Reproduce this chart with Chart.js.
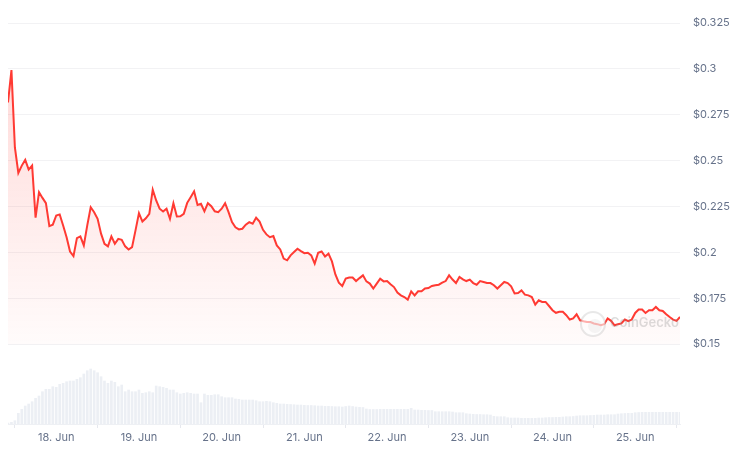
<!DOCTYPE html>
<html>
<head>
<meta charset="utf-8">
<script src="https://cdn.jsdelivr.net/npm/chart.js@4.4.1/dist/chart.umd.min.js"></script>
<style>
  html, body { margin: 0; padding: 0; background: #fff; }
  #wrap { width: 731px; height: 456px; position: relative; }
</style>
</head>
<body>
<div id="wrap"><canvas id="priceChart"></canvas></div>
<script>
// Hourly data, first point is 17 Jun ~10:00 (hour -14 relative to 18 Jun 00:00)
const startHour = -14;

const prices = [
  0.2817, 0.2993, 0.2572, 0.2433, 0.2473, 0.2504, 0.2451, 0.2473, 0.2189, 0.2328,
  0.2297, 0.2268, 0.2143, 0.2151, 0.2201, 0.2207, 0.2147, 0.2083, 0.2005, 0.1980,
  0.2078, 0.2087, 0.2038, 0.2147, 0.2246, 0.2219, 0.2183, 0.2102, 0.2047, 0.2033,
  0.2087, 0.2047, 0.2074, 0.2069, 0.2033, 0.2016, 0.2029, 0.2120, 0.2214, 0.2168,
  0.2186, 0.2210, 0.2342, 0.2283, 0.2238, 0.2223, 0.2238, 0.2183, 0.2268, 0.2196,
  0.2197, 0.2210, 0.2270, 0.2301, 0.2333, 0.2259, 0.2265, 0.2224, 0.2268, 0.2252,
  0.2224, 0.2219, 0.2238, 0.2268, 0.2219, 0.2165, 0.2137, 0.2125, 0.2129, 0.2151,
  0.2165, 0.2156, 0.2189, 0.2168, 0.2123, 0.2098, 0.2083, 0.2089, 0.2038, 0.2016,
  0.1966, 0.1957, 0.1984, 0.2002, 0.2020, 0.2007, 0.1996, 0.1998, 0.1984, 0.1939,
  0.1998, 0.2005, 0.1978, 0.1993, 0.1951, 0.1880, 0.1835, 0.1817, 0.1857, 0.1863,
  0.1863, 0.1844, 0.1860, 0.1875, 0.1842, 0.1830, 0.1803, 0.1830, 0.1857, 0.1842,
  0.1844, 0.1826, 0.1811, 0.1781, 0.1766, 0.1757, 0.1743, 0.1788, 0.1766, 0.1788,
  0.1788, 0.1803, 0.1806, 0.1817, 0.1821, 0.1824, 0.1835, 0.1844, 0.1875, 0.1852,
  0.1833, 0.1866, 0.1853, 0.1844, 0.1852, 0.1833, 0.1824, 0.1844, 0.1839, 0.1833,
  0.1833, 0.1821, 0.1803, 0.1821, 0.1839, 0.1833, 0.1815, 0.1776, 0.1779, 0.1793,
  0.1770, 0.1766, 0.1757, 0.1716, 0.1739, 0.1730, 0.1730, 0.1708, 0.1685, 0.1671,
  0.1676, 0.1676, 0.1658, 0.1634, 0.1640, 0.1663, 0.1630, 0.1625, 0.1621, 0.1621,
  0.1613, 0.1609, 0.1603, 0.1609, 0.1640, 0.1627, 0.1603, 0.1609, 0.1613, 0.1634,
  0.1625, 0.1634, 0.1670, 0.1689, 0.1689, 0.1670, 0.1685, 0.1685, 0.1703, 0.1685,
  0.1681, 0.1663, 0.1648, 0.1634, 0.1627, 0.1648
];

// Hourly volume (relative units)
const volumes = [
  1.0, 1.7, 3.3, 10.7, 14.7, 18.0, 20.0, 22.3, 25.7, 28.0,
  32.3, 34.7, 34.7, 37.3, 36.7, 39.7, 40.7, 42.3, 43.0, 43.0,
  44.7, 46.3, 50.0, 53.3, 55.0, 53.3, 51.3, 47.3, 43.0, 40.7,
  43.0, 41.7, 37.3, 39.0, 32.3, 34.0, 32.3, 32.3, 34.0, 30.7,
  31.3, 32.3, 31.3, 38.0, 37.3, 36.7, 35.7, 34.0, 34.0, 31.3,
  30.0, 30.7, 31.3, 30.7, 30.0, 30.0, 21.3, 30.0, 28.7, 28.7,
  29.3, 29.3, 27.3, 26.3, 26.3, 26.3, 25.0, 24.7, 24.0, 24.0,
  24.0, 24.0, 23.3, 22.3, 22.3, 22.7, 22.3, 21.3, 20.7, 20.0,
  20.0, 19.7, 19.5, 19.3, 19.0, 19.0, 18.7, 18.5, 18.5, 18.3,
  18.0, 18.0, 17.7, 17.7, 17.5, 17.3, 17.3, 17.0, 17.5, 18.0,
  17.5, 17.0, 16.7, 16.5, 15.0, 14.5, 14.5, 14.5, 14.7, 14.7,
  14.7, 14.7, 14.7, 14.7, 14.7, 14.7, 14.7, 15.7, 14.0, 14.0,
  13.7, 13.7, 13.5, 13.5, 12.3, 12.3, 12.3, 12.3, 12.3, 12.0,
  11.3, 11.3, 11.3, 10.3, 10.0, 9.7, 9.5, 9.5, 9.3, 9.3,
  9.0, 7.7, 7.3, 7.3, 7.3, 6.3, 6.0, 6.0, 6.0, 5.7,
  5.7, 5.7, 5.7, 5.7, 6.0, 6.0, 6.3, 6.5, 6.5, 6.7,
  6.7, 7.0, 7.3, 7.3, 7.5, 8.0, 8.3, 8.3, 8.3, 8.5,
  8.7, 9.0, 9.0, 9.0, 9.3, 9.3, 9.3, 10.0, 10.3, 10.5,
  10.7, 10.7, 11.3, 11.5, 11.7, 11.7, 11.7, 11.7, 11.7, 11.7,
  11.7, 11.7, 11.7, 11.7, 11.7, 11.7
];

const dayLabels = ['18. Jun', '19. Jun', '20. Jun', '21. Jun', '22. Jun', '23. Jun', '24. Jun', '25. Jun'];
const priceTicks = [0.15, 0.175, 0.2, 0.225, 0.25, 0.275, 0.3, 0.325];

const lineColor = '#ff3a33';
const labelColor = '#66728a';

// CoinGecko watermark drawn on top of the plot
const watermark = {
    id: 'watermark',
    afterDatasetsDraw(chart) {
        const { ctx, chartArea } = chart;
        const cx = chartArea.right - 87;
        const cy = chartArea.bottom - 100;
        ctx.save();
        ctx.beginPath();
        ctx.arc(cx, cy, 12, 0, Math.PI * 2);
        ctx.fillStyle = 'rgba(255,255,255,0.6)';
        ctx.fill();
        ctx.strokeStyle = 'rgba(190,190,190,0.35)';
        ctx.lineWidth = 2;
        ctx.stroke();
        ctx.beginPath();
        ctx.arc(cx + 2, cy + 2, 7, 0, Math.PI * 2);
        ctx.fillStyle = 'rgba(200,200,200,0.18)';
        ctx.fill();
        ctx.font = '600 13px Inter';
        ctx.fillStyle = 'rgba(140,140,140,0.3)';
        ctx.textBaseline = 'middle';
        ctx.fillText('CoinGecko', cx + 17, cy - 1);
        ctx.restore();
    }
};

const ctx = document.getElementById('priceChart').getContext('2d');

const chart = new Chart(ctx, {
    data: {
        datasets: [
            {
                type: 'line',
                label: 'Price',
                data: prices.map((p, i) => ({ x: startHour + i, y: p })),
                borderColor: lineColor,
                borderWidth: 2,
                pointRadius: 0,
                tension: 0,
                yAxisID: 'y',
                order: 1,
                fill: { value: 0.15 },
                backgroundColor: (c) => {
                    const { chartArea, scales } = c.chart;
                    if (!chartArea) return 'rgba(255,58,51,0.1)';
                    const g = c.chart.ctx.createLinearGradient(0, chartArea.top + 40, 0, scales.y.getPixelForValue(0.15));
                    g.addColorStop(0, 'rgba(255,58,51,0.19)');
                    g.addColorStop(1, 'rgba(255,58,51,0.02)');
                    return g;
                }
            },
            {
                type: 'bar',
                label: 'Volume',
                data: volumes.map((v, i) => ({ x: startHour + i, y: v })),
                backgroundColor: '#eceff4',
                barThickness: 2,
                yAxisID: 'yv',
                order: 2
            }
        ]
    },
    options: {
        responsive: true,
        maintainAspectRatio: false,
        animation: false,
        layout: {
            padding: { top: 23, left: 8, right: 0, bottom: 0 }
        },
        plugins: {
            legend: { display: false },
            tooltip: { enabled: false }
        },
        scales: {
            x: {
                type: 'linear',
                min: startHour,
                max: startHour + prices.length - 1,
                offset: false,
                grid: {
                    drawOnChartArea: false,
                    drawTicks: true,
                    tickLength: 4,
                    color: '#e6e8ee'
                },
                border: { display: true, color: '#eef0f4' },
                ticks: {
                    autoSkip: false,
                    maxRotation: 0,
                    padding: 3,
                    color: labelColor,
                    font: { family: 'Inter', size: 11 },
                    callback: (value) => dayLabels[Math.round(value / 24)]
                },
                afterBuildTicks: (scale) => {
                    scale.ticks = dayLabels.map((_, i) => ({ value: i * 24 }));
                },
                afterFit: (scale) => { scale.height = 32; }
            },
            y: {
                type: 'linear',
                position: 'right',
                min: 0.1065,
                max: 0.325,
                grid: {
                    color: '#f2f2f4',
                    drawTicks: false
                },
                border: { display: false },
                ticks: {
                    padding: 13,
                    color: labelColor,
                    font: { family: 'Inter', size: 11 },
                    callback: (value) => '$' + value
                },
                afterBuildTicks: (scale) => {
                    scale.ticks = priceTicks.map(v => ({ value: v }));
                },
                afterFit: (scale) => { scale.width = 51; }
            },
            yv: {
                type: 'linear',
                display: false,
                min: 0,
                max: 401
            }
        }
    },
    plugins: [watermark]
});
</script>
</body>
</html>
